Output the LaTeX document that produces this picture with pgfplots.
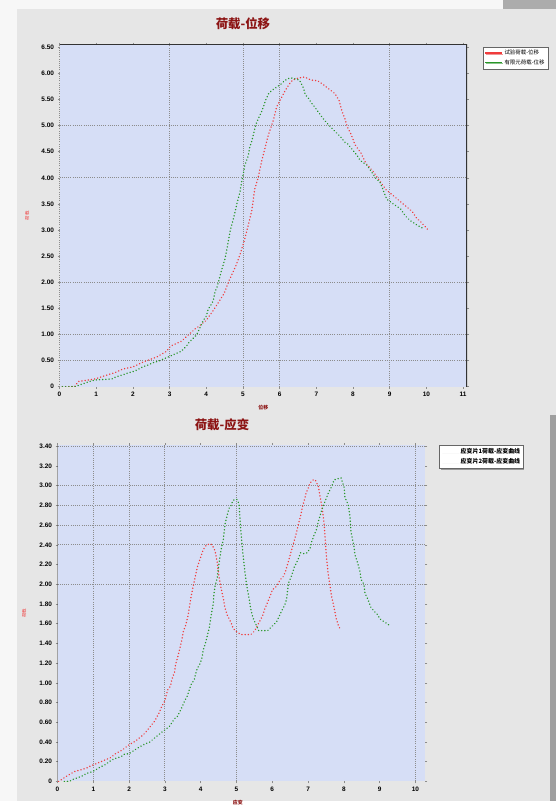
\documentclass[border=0pt]{standalone}
\usepackage{fontspec}
\setmainfont{Liberation Sans}
\newfontfamily\cjk{Noto Sans CJK SC}
\usepackage{pgfplots}
\pgfplotsset{compat=1.18}
\usetikzlibrary{shadows}
\definecolor{plotbg}{RGB}{214,222,246}
\definecolor{panel}{RGB}{230,230,230}
\definecolor{serred}{RGB}{240,60,60}
\definecolor{sergreen}{RGB}{40,150,40}
\definecolor{titlered}{RGB}{140,20,20}
\definecolor{gridgray}{RGB}{140,140,140}

\pgfplotstableread{
x y
0.08 0.00
0.41 0.00
0.51 0.10
0.97 0.15
1.32 0.23
1.51 0.27
1.73 0.34
2.00 0.38
2.30 0.48
2.65 0.57
2.92 0.68
3.03 0.78
3.32 0.87
3.51 0.99
3.68 1.10
3.84 1.18
4.00 1.27
4.16 1.43
4.32 1.60
4.49 1.79
4.62 2.03
4.81 2.32
4.92 2.53
5.03 2.78
5.14 3.08
5.24 3.37
5.32 3.78
5.41 3.99
5.51 4.32
5.62 4.62
5.68 4.79
5.84 5.13
5.92 5.36
6.03 5.51
6.16 5.68
6.27 5.80
6.35 5.87
6.51 5.91
6.68 5.93
6.86 5.87
7.03 5.86
7.16 5.80
7.51 5.61
7.62 5.48
7.70 5.27
7.78 5.13
7.84 4.98
7.95 4.83
8.05 4.64
8.22 4.47
8.35 4.28
8.54 4.13
8.89 3.78
9.30 3.54
9.62 3.35
9.73 3.23
9.84 3.16
9.95 3.08
10.05 3.00
}\topred

\pgfplotstableread{
x y
0.08 0.00
0.41 0.00
0.81 0.10
0.97 0.13
1.43 0.15
1.54 0.19
1.73 0.23
1.89 0.27
2.05 0.30
2.27 0.38
2.43 0.42
2.54 0.46
2.70 0.49
3.32 0.68
3.46 0.78
3.54 0.86
3.62 0.91
3.73 0.99
3.81 1.10
3.86 1.18
3.92 1.27
4.00 1.35
4.05 1.48
4.14 1.58
4.19 1.65
4.24 1.82
4.30 1.92
4.35 2.05
4.41 2.21
4.51 2.45
4.57 2.66
4.65 2.98
4.73 3.19
4.78 3.33
4.84 3.52
4.92 3.73
4.97 3.94
5.03 4.15
5.05 4.24
5.14 4.41
5.19 4.60
5.24 4.70
5.30 4.87
5.35 5.02
5.43 5.15
5.51 5.27
5.57 5.38
5.62 5.49
5.70 5.61
5.78 5.67
6.05 5.80
6.13 5.86
6.27 5.91
6.35 5.91
6.54 5.87
6.65 5.72
6.70 5.59
6.78 5.53
6.86 5.44
6.95 5.36
7.19 5.13
7.35 5.00
7.62 4.81
7.68 4.77
7.78 4.68
7.84 4.66
8.11 4.43
8.16 4.37
8.22 4.32
8.38 4.24
8.49 4.13
8.62 3.99
8.73 3.92
8.78 3.84
8.92 3.59
9.30 3.40
9.43 3.27
9.54 3.19
9.78 3.08
9.89 3.04
}\topgreen

\pgfplotstableread{
x y
0.03 0.00
0.28 0.06
0.47 0.10
0.67 0.12
0.83 0.14
0.94 0.16
1.21 0.20
1.47 0.24
1.61 0.28
1.81 0.32
1.95 0.36
2.08 0.39
2.18 0.41
2.35 0.46
2.44 0.49
2.71 0.61
2.77 0.65
2.83 0.69
2.91 0.76
2.99 0.81
3.08 0.93
3.16 0.97
3.19 1.03
3.27 1.11
3.30 1.19
3.35 1.25
3.41 1.34
3.47 1.43
3.52 1.53
3.57 1.57
3.64 1.67
3.69 1.78
3.74 1.89
3.79 1.98
3.85 2.08
3.91 2.18
4.07 2.35
4.16 2.40
4.27 2.41
4.32 2.40
4.40 2.34
4.46 2.23
4.51 2.08
4.57 1.96
4.63 1.86
4.68 1.76
4.74 1.69
4.85 1.61
4.90 1.56
4.96 1.53
5.12 1.49
5.40 1.49
5.46 1.51
5.51 1.53
5.73 1.68
5.79 1.75
5.85 1.80
5.96 1.90
6.01 1.95
6.07 1.96
6.15 2.00
6.23 2.05
6.31 2.08
6.37 2.13
6.45 2.23
6.51 2.31
6.62 2.45
6.68 2.53
6.73 2.61
6.79 2.69
6.84 2.78
6.90 2.86
6.95 2.93
7.01 2.98
7.06 3.03
7.15 3.06
7.20 3.06
7.29 2.99
7.34 2.88
7.40 2.76
7.45 2.61
7.51 2.29
7.56 2.11
7.62 1.97
7.65 1.89
7.73 1.76
7.78 1.66
7.84 1.59
7.89 1.55
}\botred

\pgfplotstableread{
x y
0.19 0.00
0.33 0.00
0.42 0.02
0.50 0.03
0.72 0.06
0.80 0.08
0.97 0.10
1.08 0.12
1.16 0.14
1.33 0.17
1.44 0.20
1.58 0.23
1.77 0.25
1.88 0.28
1.99 0.28
2.16 0.32
2.24 0.34
2.44 0.38
2.58 0.40
2.71 0.44
2.88 0.49
3.13 0.56
3.24 0.62
3.30 0.65
3.35 0.66
3.46 0.74
3.52 0.79
3.57 0.83
3.63 0.87
3.68 0.93
3.74 0.99
3.82 1.03
3.85 1.08
3.91 1.15
3.99 1.20
4.04 1.26
4.07 1.33
4.13 1.40
4.18 1.47
4.24 1.56
4.29 1.68
4.35 1.80
4.37 1.90
4.40 1.98
4.46 2.06
4.51 2.21
4.57 2.35
4.63 2.45
4.68 2.61
4.74 2.70
4.79 2.77
4.85 2.80
4.90 2.85
4.96 2.86
5.01 2.86
5.07 2.82
5.12 2.55
5.18 2.31
5.24 2.11
5.29 1.98
5.35 1.86
5.40 1.75
5.46 1.66
5.51 1.62
5.62 1.53
5.87 1.53
6.12 1.62
6.29 1.75
6.35 1.79
6.40 1.85
6.42 1.91
6.45 2.01
6.51 2.06
6.57 2.12
6.62 2.18
6.68 2.22
6.73 2.26
6.79 2.32
6.90 2.31
6.98 2.32
7.06 2.37
7.09 2.42
7.17 2.50
7.23 2.55
7.29 2.64
7.34 2.70
7.37 2.74
7.42 2.79
7.56 2.92
7.67 3.00
7.73 3.06
7.92 3.08
8.01 2.98
8.03 2.88
8.12 2.81
8.17 2.69
8.20 2.53
8.28 2.39
8.31 2.30
8.39 2.21
8.45 2.13
8.48 2.05
8.56 2.00
8.59 1.91
8.67 1.85
8.75 1.77
8.84 1.73
8.89 1.71
8.95 1.69
9.00 1.65
9.17 1.61
9.25 1.59
}\botgreen

\pgfplotsset{
  dotser/.style={line width=1.6pt, dash pattern=on 0.01pt off 3.2pt, line cap=round, line join=round, mark=none},
  common/.style={
    scale only axis, anchor=south west,
    axis background/.style={fill=plotbg},
    axis line style={draw=none},
    tick style={draw=gridgray, line width=0.6pt},
    major tick length=2pt,
    tick align=outside,
    ticklabel style={font=\fontsize{6.5}{7}\selectfont\bfseries, text=black},
    major grid style={draw=gridgray, line width=0.9pt, dash pattern=on 1pt off 1.2pt},
    title style={font=\cjk\bfseries\fontsize{12.5}{13}\selectfont, text=titlered},
    xlabel style={font=\cjk\bfseries\fontsize{5}{5}\selectfont, text=titlered},
    ylabel style={font=\cjk\fontsize{4.5}{5}\selectfont, text=serred},
    legend cell align=left,
  }
}

\begin{document}
\begin{tikzpicture}
\fill[white!94!gray] (0pt,0pt) rectangle (561pt,808pt);
\fill[panel] (17pt,390pt) rectangle (561pt,799pt);
\fill[panel] (17pt,0pt) rectangle (555pt,390pt);
\fill[gray!75] (555pt,0pt) rectangle (561pt,390pt);
\fill[gray!65] (507pt,799pt) rectangle (561pt,808pt);

\begin{axis}[common,
  at={(60pt,418pt)}, width=411pt, height=345pt,
  xmin=0, xmax=11.11, ymin=0, ymax=6.55,
  xtick={0,1,...,11},
  xticklabels={0,1,2,3,4,5,6,7,8,9,10,11},
  ytick={0,0.5,...,6.5},
  yticklabels={0,0.50,1.00,1.50,2.00,2.50,3.00,3.50,4.00,4.50,5.00,5.50,6.00,6.50},
  extra x ticks={0,3,5,6,9}, extra x tick labels={},
  extra x tick style={xmajorgrids=true, major tick length=0pt},
  extra y ticks={0.5,1,2,4,5}, extra y tick labels={},
  extra y tick style={ymajorgrids=true, major tick length=0pt},
  title={荷载-位移}, title style={at={(0.45,1)}, anchor=south, yshift=5pt},
  xlabel={位移}, xlabel style={at={(0.5,0)}, anchor=north, yshift=-15pt},
  ylabel={荷载}, ylabel style={at={(0,0.5)}, anchor=south, yshift=27pt},
  legend style={at={(1.039,0.994)}, anchor=north west, font=\cjk\fontsize{5.5}{6}\selectfont,
    draw=black!60, fill=white, drop shadow={shadow xshift=1pt, shadow yshift=-1.2pt, fill=black!70},
    inner sep=1.2pt, row sep=-0.5pt},
]
\addlegendimage{serred, line width=1.2pt}
\addlegendentry{试验荷载-位移}
\addlegendimage{sergreen, line width=1.2pt}
\addlegendentry{有限元荷载-位移}
\addplot[serred, dotser] table[x=x,y=y] {\topred};
\addplot[sergreen, dotser] table[x=x,y=y] {\topgreen};
\draw[black!80, line width=1.4pt] (rel axis cs:0,1) -- (rel axis cs:1,1) -- (rel axis cs:1,0);
\end{axis}

\begin{axis}[common,
  at={(58pt,20pt)}, width=371pt, height=339pt,
  xmin=0, xmax=10.28, ymin=0, ymax=3.41,
  xtick={0,1,...,10},
  xticklabels={0,1,2,3,4,5,6,7,8,9,10},
  ytick={0,0.2,...,3.41},
  yticklabels={0,0.20,0.40,0.60,0.80,1.00,1.20,1.40,1.60,1.80,2.00,2.20,2.40,2.60,2.80,3.00,3.20,3.40},
  extra x ticks={1,2,3,5,10}, extra x tick labels={},
  extra x tick style={xmajorgrids=true, major tick length=0pt},
  extra y ticks={2.0,2.4,2.6,2.8,3.0,3.4}, extra y tick labels={},
  extra y tick style={ymajorgrids=true, major tick length=0pt},
  title={荷载-应变}, title style={at={(0.447,1)}, anchor=south, yshift=5pt},
  xlabel={应变}, xlabel style={at={(0.49,0)}, anchor=north, yshift=-15pt},
  ylabel={荷载}, ylabel style={at={(0,0.5)}, anchor=south, yshift=28pt},
  legend style={at={(1.038,1)}, anchor=north west, font=\cjk\bfseries\fontsize{6}{6.5}\selectfont,
    draw=black!60, fill=white, drop shadow={shadow xshift=1pt, shadow yshift=-1.2pt, fill=black!70},
    inner sep=1.2pt, row sep=-0.5pt},
]
\addlegendimage{white, line width=1pt}
\addlegendentry{应变片1荷载-应变曲线}
\addlegendimage{white, line width=1pt}
\addlegendentry{应变片2荷载-应变曲线}
\addplot[serred, dotser] table[x=x,y=y] {\botred};
\addplot[sergreen, dotser] table[x=x,y=y] {\botgreen};
\draw[black!85, line width=1.4pt] (rel axis cs:0,0) -- (rel axis cs:0,1);
\end{axis}
\end{tikzpicture}
\end{document}
